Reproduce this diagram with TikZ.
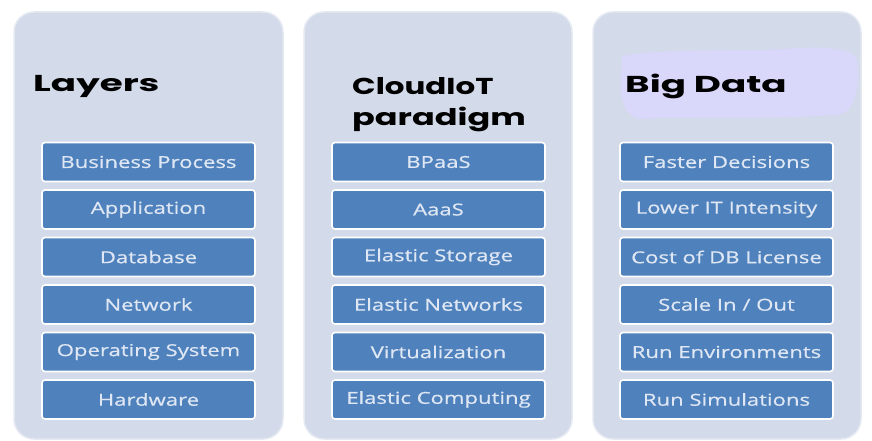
\documentclass[tikz,border=0pt]{standalone}
\usepackage{fontspec}
\usepackage{graphicx}
\newfontfamily\boxfont[FakeStretch=1.34,FakeBold=0.6]{Open Sans}
\newfontfamily\titlefont{Poppins}[UprightFont={* Bold},FakeStretch=1.62]
\definecolor{panelfill}{RGB}{211,218,233}
\definecolor{boxfill}{RGB}{79,129,189}
\definecolor{boxtext}{RGB}{222,231,243}
\definecolor{lavender}{RGB}{218,216,250}
\tikzset{
  panel/.style={fill=panelfill, draw=panelfill!60!white, line width=1.5pt, rounded corners=20pt},
  itembox/.style={fill=boxfill, draw=white, line width=1.6pt, rounded corners=3pt,
    minimum width=213pt, minimum height=39pt, inner sep=0pt,
    text=boxtext, font=\boxfont\fontsize{16.5}{18}\selectfont},
  title/.style={anchor=base west, inner sep=0pt, font=\titlefont\fontsize{23}{26}\selectfont, text=black, align=left}
}
\begin{document}
\begin{tikzpicture}[x=1pt,y=-1pt]
\useasboundingbox (0,0) rectangle (872,441);
\fill[white] (0,0) rectangle (872,441);
% panels
\path[panel] (14,12) rectangle (283,439);
\path[panel] (304,12) rectangle (572,439);
\path[panel] (593,12) rectangle (861,439);
% lavender highlight
\fill[lavender] (622,56) .. controls (660,48) and (760,52) .. (800,48)
  .. controls (830,46) and (855,50) .. (857,60)
  .. controls (860,85) and (856,108) .. (842,114)
  .. controls (790,120) and (700,116) .. (640,119)
  .. controls (625,117) and (620,100) .. (621,80) -- cycle;
% titles
\node[title] (t1) at (33,92) {Layers};
\node[title] (t2) at (352,95) {\scalebox{0.83}[1]{CloudIoT}};
\node[title] (t2b) at (352,125) {\scalebox{0.9}[1]{paradigm}};
\node[title] (t3) at (625,93) {Big Data};
% column 1
\node[itembox] (a1) at (148.5,162) {Business Process};
\node[itembox] (a2) at (148.5,209.5) {Application};
\node[itembox] (a3) at (148.5,257) {Database};
\node[itembox] (a4) at (148.5,304.5) {Network};
\node[itembox] (a5) at (148.5,352) {Operating System};
\node[itembox] (a6) at (148.5,399.5) {Hardware};
% column 2
\node[itembox] (b1) at (438.5,162) {BPaaS};
\node[itembox] (b2) at (438.5,209.5) {AaaS};
\node[itembox] (b3) at (438.5,257) {Elastic Storage};
\node[itembox] (b4) at (438.5,304.5) {Elastic Networks};
\node[itembox] (b5) at (438.5,352) {Virtualization};
\node[itembox] (b6) at (438.5,399.5) {Elastic Computing};
% column 3
\node[itembox] (c1) at (726.5,162) {Faster Decisions};
\node[itembox] (c2) at (726.5,209.5) {Lower IT Intensity};
\node[itembox] (c3) at (726.5,257) {Cost of DB License};
\node[itembox] (c4) at (726.5,304.5) {Scale In / Out};
\node[itembox] (c5) at (726.5,352) {Run Environments};
\node[itembox] (c6) at (726.5,399.5) {Run Simulations};
\end{tikzpicture}
\end{document}
